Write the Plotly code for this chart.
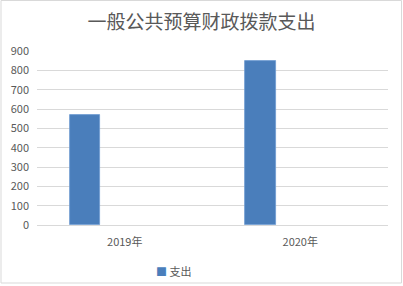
import plotly.graph_objects as go

categories = ["2019年", "2020年"]
spending = [567, 848]
series_name = "支出"
title_text = "一般公共预算财政拨款支出"
y_ticks = [0, 100, 200, 300, 400, 500, 600, 700, 800, 900]

W, H = 403, 286
L, R, T, B = 37, 15, 51, 61
pw, ph = W - L - R, H - T - B

def px_x(x):
    return (x - L) / pw

def px_y(y):
    return (H - B - y) / ph

font_fam = "Noto Sans CJK SC, Liberation Sans, sans-serif"
gray = "#595959"
bar_color = "#4A7EBB"

fig = go.Figure()
fig.add_trace(go.Bar(
    x=categories, y=spending, name=series_name,
    width=0.171, offset=-0.312,
    marker=dict(color=bar_color, line=dict(color="#6f9bd1", width=0.8)),
))

fig.update_layout(
    width=W, height=H,
    margin=dict(l=L, r=R, t=T, b=B, autoexpand=False),
    paper_bgcolor="white", plot_bgcolor="white",
    title=dict(text=title_text, x=0.5, xanchor="center", xref="container",
               y=1 - 22 / H, yanchor="middle",
               font=dict(family=font_fam, size=19, color=gray)),
    font=dict(family=font_fam, size=11, color=gray),
    showlegend=False,
    bargap=0,
    xaxis=dict(type="category", showgrid=False, showline=True, linecolor="#d9d9d9",
               linewidth=1, ticks="", tickfont=dict(size=11, color=gray),
               ticklabelstandoff=7, zeroline=False),
    yaxis=dict(range=[0, 900], tickvals=y_ticks, showgrid=True, gridcolor="#d9d9d9",
               gridwidth=1, zeroline=False, showline=False, ticks="",
               tickfont=dict(size=11, color=gray), ticklabelstandoff=7),
    annotations=[dict(
        xref="paper", yref="paper", x=px_x(154), y=px_y(271),
        xanchor="left", yanchor="middle", showarrow=False,
        text=f'<span style="color:{bar_color}">■</span> {series_name}',
        font=dict(family=font_fam, size=11, color=gray))],
    shapes=[dict(type="rect", xref="paper", yref="paper",
                 x0=px_x(1), x1=px_x(401.5), y0=px_y(283), y1=px_y(0.5),
                 line=dict(color="#d9d9d9", width=1), fillcolor="rgba(0,0,0,0)",
                 layer="below")],
)

fig.write_html("out.html")
